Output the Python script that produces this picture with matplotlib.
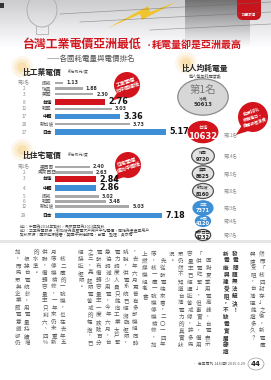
import numpy as np
import matplotlib.pyplot as plt
from matplotlib.patches import Ellipse, Circle, Polygon, Rectangle, FancyBboxPatch

plt.rcParams['font.family'] = ['Noto Sans CJK TC', 'DejaVu Sans']

W, H = 271, 380

# ---- data
ind_countries = ['挪威', '瑞典', '美國', '台灣', '韓國', '中國', '新加坡', '日本']
ind_prices = [1.13, 1.88, 2.30, 2.76, 3.03, 3.36, 3.73, 5.17]
ind_ranks = ['第1名', '2', '3', '8', '12', '17', '20', '27']

res_countries = ['墨西哥', '馬來西亞', '台灣', '中國', '挪威', '韓國', '新加坡', '日本']
res_prices = [2.40, 2.63, 2.84, 2.86, 3.02, 3.48, 5.03, 7.18]
res_ranks = ['第1名', '2', '3', '4', '5', '6', '12', '29']

pc_countries = ['冰島', '台灣', '韓國', '美國', '新加坡', '日本', '中國', '馬來西亞']
pc_kwh = [50613, 10632, 9720, 8625, 8160, 7371, 4120, 4232]
pc_ranks = ['第1名', '第11名', '第14名', '第15名', '第20名', '第23名', '第34名', '第37名']

RED = '#d3141c'
BLUE = '#3f8fd6'
HILITE = {'台灣': RED, '中國': BLUE, '日本': BLUE}

fig = plt.figure(figsize=(W / 100, H / 100), dpi=100)
ax = fig.add_axes([0, 0, 1, 1])
ax.set_xlim(0, W)
ax.set_ylim(H, 0)
ax.axis('off')


def pax(x0, y0, x1, y1):
    a = fig.add_axes([x0 / W, 1 - y1 / H, (x1 - x0) / W, (y1 - y0) / H])
    a.axis('off')
    return a


# ---- photo strip on top
grad = np.linspace(0.80, 1.0, 48)[:, None] * np.ones((1, W))
grad[:, 185:250] -= np.linspace(0.35, 0.0, 48)[:, None]
img = np.dstack([grad, grad, grad * 1.01]).clip(0, 1)
ax.imshow(img, extent=(0, W, 48, 0), aspect='auto', zorder=0)
for (xa, ya, xb, yb) in [(60, 14, 271, 2), (80, 22, 271, 12), (150, 30, 271, 24)]:
    ax.plot([xa, xb], [ya, yb], color='#6a6a6a', lw=0.5, alpha=0.6)
ax.add_patch(Ellipse((42, 10), 30, 34, fill=False, ec='#b0b0b0', lw=0.7))
ax.plot([36, 36, 48, 48], [26, 34, 34, 26], color='#b0b0b0', lw=0.6)
ax.add_patch(Polygon([(108, 28), (140, 14), (142, 20), (176, 2), (150, 12), (148, 6)],
                     fc='#f2c21b', ec='none', alpha=0.9))
ax.add_patch(FancyBboxPatch((237, -8), 24, 28, boxstyle='round,pad=0,rounding_size=6',
                            fc='#c8141c', ec='none'))
ax.text(249, 15, '封面故事', color='white', fontsize=2.6, ha='center', va='center')
ax.add_patch(Rectangle((0, 3), 4, 5, fc='#333', ec='none'))

# ---- titles
ax.text(23, 44, '台灣工業電價亞洲最低', color=RED, fontsize=8.6, fontweight='bold', va='center')
ax.text(145, 45, '•', color=RED, fontsize=6, va='center')
ax.text(152, 45, '耗電量卻是亞洲最高', color=RED, fontsize=7.2, fontweight='bold', va='center')
ax.text(47, 59, '——各國耗電量與電價排名', color='#555', fontsize=5.4, va='center')


def halo(x, y):
    for r, a in [(11, 0.10), (8, 0.15), (5, 0.22)]:
        ax.add_patch(Circle((x, y), r, fc='#f5b642', ec='none', alpha=a, zorder=1))


def callout(x, y, r, txt, fs):
    ax.add_patch(Polygon([(x - r * 0.7, y + r * 0.5), (x - r * 1.15, y + r * 1.2),
                          (x - r * 0.2, y + r * 0.9)], fc=RED, ec='none', zorder=4))
    ax.add_patch(Circle((x, y), r, fc=RED, ec='none', zorder=4))
    ax.text(x, y, txt, color='white', fontsize=fs, fontweight='bold', ha='center',
            va='center', rotation=18, linespacing=1.1, zorder=5)


def bar_chart(title, ytitle, rows, countries, values, ranks, v0, scale):
    halo(22, ytitle - 5)
    ax.text(22, ytitle, title, fontsize=5.6, fontweight='bold', color='#222', va='center', zorder=2)
    ax.text(68, ytitle, '新台幣元/度', fontsize=2.8, color='#555', va='center')
    y_top, y_bot = rows[0] - 4, rows[-1] + 4
    bx = pax(55, y_top, 200, y_bot)
    bx.set_ylim(y_bot, y_top)
    bx.set_xlim(v0, v0 + 145 / scale)
    for y, c, v, r in zip(rows, countries, values, ranks):
        hl = c in HILITE
        bx.barh(y, v, height=5.6 if hl else 2.6, color=HILITE.get(c, '#a9a9a9'))
        bx.text(v + 3 / scale, y, f'{v:.2f}', fontsize=5.8 if hl else 3.4, fontweight='bold',
                va='center', color='#111' if hl else '#333', family='DejaVu Sans', clip_on=False)
        ax.text(47, y, c, fontsize=3.4, ha='center', va='center',
                color='#111' if hl else '#555', fontweight='bold' if hl else 'normal')
        ax.text(24, y, r, fontsize=3.4, ha='center', va='center', color='#888')


bar_chart('比工業電價', 72, [83, 88.5, 94, 102, 109, 116.5, 124, 132],
          ind_countries, ind_prices, ind_ranks, 0.8, 25.5)
bar_chart('比住宅電價', 155, [167, 172.5, 179, 188, 196.5, 201.5, 206.5, 215.5],
          res_countries, res_prices, res_ranks, 0.13, 15.2)

callout(127, 85, 13, '工業電價\n比中國還低', 3.6)
callout(128, 165, 13, '住宅電價\n還比中國低', 3.6)

# ---- per-capita consumption bubbles
halo(186, 63)
ax.text(205, 68, '比人均耗電量', fontsize=5.6, fontweight='bold', color='#222', ha='center', va='center', zorder=2)
ax.text(205, 76, '每人每年耗電度數', fontsize=3.0, color='#555', ha='center', va='center')
ys = [97, 132, 156, 173.5, 191, 208, 221, 235]
bcx = 203
for i, (c, v, r, y) in enumerate(zip(pc_countries, pc_kwh, pc_ranks, ys)):
    w = 0.22 * np.sqrt(v) + 1
    if c == '台灣':
        w *= 1.25
    h = w * 0.72
    if i == 0:
        fc, ec, tc = '#d7d7d7', '#8c8c8c', '#333'
    elif c in HILITE:
        fc, ec, tc = HILITE[c], HILITE[c], 'white'
    elif c == '馬來西亞':
        fc, ec, tc = 'white', '#444', '#222'
    else:
        fc, ec, tc = '#e2e2e2', '#555', '#222'
    ax.add_patch(Ellipse((bcx, y), w, h, fc=fc, ec=ec, lw=0.9, zorder=3))
    if i == 0:
        ax.text(bcx, y - 7, r, fontsize=7.5, color='#777', ha='center', va='center', zorder=4)
        ax.text(bcx, y + 2.5, c, fontsize=3.2, color=tc, ha='center', va='center', zorder=4)
        ax.text(bcx, y + 7.5, f'{v}', fontsize=3.9, color=tc, fontweight='bold', ha='center',
                va='center', family='DejaVu Sans', zorder=4)
        continue
    big = c == '台灣'
    ax.text(bcx, y - h * 0.2, c, fontsize=3.4 if big else 2.8, color=tc, ha='center', va='center', zorder=4)
    ax.text(bcx, y + h * 0.2, f'{v}', fontsize=6 if big else 3.6, color=tc, fontweight='bold',
            ha='center', va='center', family='DejaVu Sans', zorder=4)
    ax.text(bcx + 21, y + (3 if big else 0), r, fontsize=3.2, color='#888', va='center')

callout(253, 117, 15, '能源98%\n依賴進口，\n用電卻極浪費', 3.0)

# ---- notes
notes = ['註1：中國為2014年資料，馬來西亞為2013年資料',
         '註2：工業用電部分，新加坡為高壓電大戶用戶平均電價，南韓為全產業用戶',
         '資料來源：國際能源總署、英國中央情報局、台電　整理：黃亦筠']
for k, t in enumerate(notes):
    ax.text(20, 227 + 4 * k, t, fontsize=2.8, color='#444', va='center')
ax.add_patch(Rectangle((0, 240), W, 2.5, fc='#e6e6e6', ec='none'))

# ---- body text, vertical columns read right to left
NCH = 14


def chunk(par, bold=False, indent=True):
    s = ('　' if indent else '') + par
    return [(s[i:i + NCH], bold) for i in range(0, len(s), NCH)]


body_right = (chunk('然而「核四封存」之後，新電廠興建受阻，台灣還能撐多久？', indent=False)
              + [('', False)]
              + [('發電問題無法解決！', True), ('新電廠興建受阻，不缺電實屬硬撐', True)]
              + [('', False)]
              + chunk('面對夏季用電高峰，台電表示「供電吃緊」，但事實上，備用容量率已經逼近警戒線，許多民眾仍然不知道台灣電力的真實狀況。')
              + chunk('先從發電端來看，二〇一四年底，核一廠一號機停機檢修，加上燃煤機組老舊'))
body_left = (chunk('，去年六月更曾有多部機組同時跳脫，供電系統已經瀕臨極限，電力調度人員只能向工業大戶緊急協調減少用電，今年六月，台電發布備轉容量率一度跌破百分之三，亮起限電警戒的橘燈，已經接近極限。', indent=False)
             + [('', False)]
             + chunk('核二廠的一號機，也在去年五月底停機檢修，一年來仍未重新併聯，備轉容量率只剩六、四%的水準。')
             + chunk('根據台電統計，用電量持續增加，而民眾與企業節電意識卻仍然不足，用電成長速度已經超過供電能力，能源轉型的腳步也十分緩慢。'))


def draw_columns(cols, x_right, x_left, y0, step=9.0, pitch=7.0):
    for j, (txt, bold) in enumerate(cols):
        x = x_right - j * step
        if x < x_left:
            break
        for i, ch in enumerate(txt):
            ax.text(x, y0 + i * pitch, ch, fontsize=4.0, ha='center', va='center',
                    color='#333' if bold else '#5a5a5a', fontweight='bold' if bold else 'normal')


draw_columns(body_right, 262, 142, 254)
draw_columns(body_left, 135, 15, 252)

ax.text(245, 364, '• 商業周刊 1443期 2015.6.29', fontsize=2.8, color='#555', ha='right', va='center')
ax.text(256, 364, '44', fontsize=5, fontweight='bold', color='#222', ha='center', va='center',
        family='DejaVu Sans')
ax.add_patch(Ellipse((256, 364), 16, 12, fill=False, ec='#999', lw=0.5))

fig.savefig('out.png', dpi=100)
